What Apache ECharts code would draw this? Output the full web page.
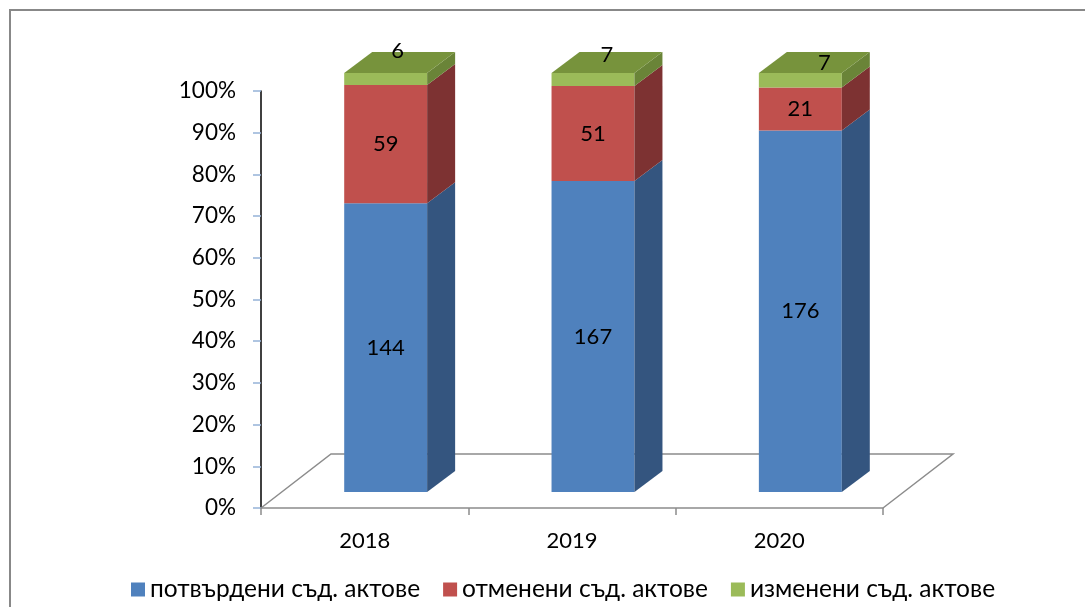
<!DOCTYPE html>
<html>
<head>
<meta charset="utf-8">
<script src="https://cdn.jsdelivr.net/npm/echarts@6/dist/echarts.min.js"></script>
<style>
html,body{margin:0;padding:0;background:#fff;}
#c{width:1085px;height:607px;}
</style>
</head>
<body>
<div id="c"></div>
<script>
// ---- data ----
const categories = ['2018', '2019', '2020'];
const seriesNames = ['потвърдени съд. актове', 'отменени съд. актове', 'изменени съд. актове'];
const confirmedActs = [144, 167, 176];
const revokedActs = [59, 51, 21];
const modifiedActs = [6, 7, 7];
const yTickValues = [0, 10, 20, 30, 40, 50, 60, 70, 80, 90, 100];

// ---- styling / layout ----
const FONT = 'Lato, "Noto Sans", sans-serif';
const frontColors = ['#4F81BD', '#C0504D', '#9BBB59'];
const sideColors = ['#34557F', '#7D3232', '#6A8438'];
const topColors = ['#3E6699', '#9A3F3D', '#77933C'];
const SHIFT_X = 21, SHIFT_Y = -16;   // front face of bars relative to axis plane
const DX = 28, DY = -21;             // bar depth
const FLOOR_DX = 70, FLOOR_DY = -54; // floor depth
const SCALE = 419 / 417;
const BAR_RATIO = 0.40;
const topLabelNudge = [[-2, -12], [0, -8], [10, 0]];

const layers = [confirmedActs, revokedActs, modifiedActs];
const totals = categories.map((c, i) => layers.reduce((s, arr) => s + arr[i], 0));

function layerData(k) {
  return categories.map((c, i) => {
    let start = 0;
    for (let j = 0; j < k; j++) start += layers[j][i] / totals[i] * 100;
    const end = start + layers[k][i] / totals[i] * 100;
    return [i, start, end, layers[k][i]];
  });
}

function makeRender(k) {
  return function (params, api) {
    const i = api.value(0);
    const start = api.value(1), end = api.value(2), raw = api.value(3);
    const cs = params.coordSys;
    const base = cs.y + cs.height;
    const band = api.size([1, 0])[0];
    const cx = api.coord([i, 0])[0];
    const w = band * BAR_RATIO;
    const fx0 = cx + SHIFT_X - w / 2, fx1 = fx0 + w;
    const ys = base + SHIFT_Y - (base - api.coord([i, start])[1]) * SCALE;
    const ye = base + SHIFT_Y - (base - api.coord([i, end])[1]) * SCALE;
    const children = [
      { type: 'polygon', shape: { points: [[fx0, ys], [fx1, ys], [fx1, ye], [fx0, ye]] }, style: { fill: frontColors[k] } },
      { type: 'polygon', shape: { points: [[fx1, ys], [fx1 + DX, ys + DY], [fx1 + DX, ye + DY], [fx1, ye]] }, style: { fill: sideColors[k] } }
    ];
    let lx = (fx0 + fx1) / 2, ly = (ys + ye) / 2;
    if (k === layers.length - 1) {
      children.push({ type: 'polygon', shape: { points: [[fx0, ye], [fx1, ye], [fx1 + DX, ye + DY], [fx0 + DX, ye + DY]] }, style: { fill: topColors[k] } });
      lx = (fx0 + fx1) / 2 + DX / 2 + topLabelNudge[i][0];
      ly = ye + DY / 2 + topLabelNudge[i][1];
    }
    children.push({ type: 'text', style: { text: String(raw), x: lx, y: ly, align: 'center', verticalAlign: 'middle', fontSize: 22, fontFamily: FONT, fill: '#000' } });
    return { type: 'group', children: children };
  };
}

function renderFloor(params, api) {
  const cs = params.coordSys;
  const x0 = cs.x, x1 = cs.x + cs.width, y = cs.y + cs.height;
  return {
    type: 'polyline',
    shape: { points: [[x0, y], [x0 + FLOOR_DX, y + FLOOR_DY], [x1 + FLOOR_DX, y + FLOOR_DY], [x1, y]] },
    style: { stroke: '#8C8C8C', lineWidth: 1.5, fill: null }
  };
}

const chart = echarts.init(document.getElementById('c'), null, { renderer: 'canvas' });
const series = [{
  type: 'custom', name: 'floor', renderItem: renderFloor, data: [[0, 0]], silent: true, z: 1
}];
seriesNames.forEach((name, k) => {
  series.push({
    type: 'custom', name: name, renderItem: makeRender(k), data: layerData(k),
    itemStyle: { color: frontColors[k] }, encode: { x: 0, y: [1, 2] }, z: 2 + k
  });
});

chart.setOption({
  animation: false,
  backgroundColor: '#fff',
  graphic: [{
    type: 'rect', shape: { x: 10, y: 10, width: 1200, height: 800 },
    style: { fill: null, stroke: '#888', lineWidth: 2 }, z: -1
  }],
  grid: { left: 261, right: 202, top: 91, bottom: 99 },
  legend: {
    data: seriesNames, left: 126, top: 572, itemWidth: 14, itemHeight: 14, itemGap: 23,
    icon: 'rect', textStyle: { fontSize: 24.5, fontFamily: FONT, color: '#000' }
  },
  xAxis: {
    type: 'category', data: categories, boundaryGap: true,
    axisLine: { lineStyle: { color: '#8C8C8C', width: 1.5 } },
    axisTick: { show: true, length: 7, lineStyle: { color: '#8C8C8C', width: 1.5 } },
    axisLabel: { fontSize: 22, fontFamily: FONT, color: '#000', margin: 22 },
    splitLine: { show: false }
  },
  yAxis: {
    type: 'value', min: yTickValues[0], max: yTickValues[yTickValues.length - 1], interval: yTickValues[1] - yTickValues[0],
    axisLine: { show: true, lineStyle: { color: '#000', width: 1.5 } },
    axisTick: { show: true, length: 8, lineStyle: { color: '#95B3D7', width: 1.5 } },
    axisLabel: { formatter: '{value}%', fontSize: 22.5, fontFamily: FONT, color: '#000', margin: 25 },
    splitLine: { show: false }
  },
  series: series
});
</script>
</body>
</html>
